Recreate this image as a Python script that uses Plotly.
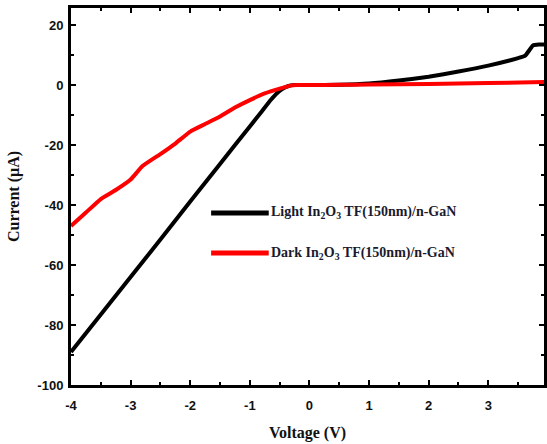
import plotly.graph_objects as go

# Light In2O3 TF(150nm)/n-GaN
light_v = [-4.0, -3.5, -3.0, -2.5, -2.0, -1.5, -1.0, -0.8, -0.65, -0.55, -0.45, -0.35, -0.25, 0.0, 0.5, 1.0, 1.5, 2.0, 2.5, 3.0, 3.5, 3.62, 3.75, 3.85, 3.95]
light_i = [-89.0, -76.5, -64.0, -51.5, -38.8, -26.3, -13.8, -8.8, -5.0, -2.8, -1.2, -0.3, 0.0, 0.0, 0.1, 0.5, 1.5, 2.8, 4.5, 6.5, 9.0, 9.8, 13.2, 13.5, 13.5]

# Dark In2O3 TF(150nm)/n-GaN
dark_v = [-4.0, -3.75, -3.5, -3.25, -3.0, -2.8, -2.5, -2.25, -2.0, -1.75, -1.5, -1.25, -1.0, -0.75, -0.5, -0.3, -0.2, 0.0, 0.5, 1.0, 2.0, 3.0, 3.95]
dark_i = [-47.0, -42.5, -38.0, -35.0, -31.5, -27.0, -23.0, -19.5, -15.5, -13.0, -10.5, -7.5, -5.0, -2.8, -1.2, -0.1, 0.0, 0.0, 0.1, 0.2, 0.4, 0.7, 1.0]

x_ticks = [-4, -3, -2, -1, 0, 1, 2, 3]
y_ticks = [20, 0, -20, -40, -60, -80, -100]

legend_labels = ["Light In<sub>2</sub>O<sub>3</sub> TF(150nm)/n-GaN",
                 "Dark In<sub>2</sub>O<sub>3</sub> TF(150nm)/n-GaN"]
colors = ["#000000", "#ff0000"]

fig = go.Figure()
fig.add_trace(go.Scatter(x=light_v, y=light_i, mode="lines",
                         line=dict(color=colors[0], width=4, shape="spline", smoothing=0.4),
                         showlegend=False))
fig.add_trace(go.Scatter(x=dark_v, y=dark_i, mode="lines",
                         line=dict(color=colors[1], width=4, shape="spline", smoothing=0.4),
                         showlegend=False))

tickfont = dict(family="Liberation Sans", size=13, color="#111", weight="bold")
titlefont = dict(family="Liberation Serif", size=16, color="#111", weight="bold")

fig.update_xaxes(range=[-4, 3.935], tickvals=x_ticks, ticktext=[str(v) for v in x_ticks],
                 showgrid=False, zeroline=False, showline=True, linecolor="black", linewidth=3,
                 mirror="ticks", ticks="inside", ticklen=5, tickwidth=2, tickcolor="black",
                 minor=dict(ticks="inside", ticklen=3, tickwidth=2, dtick=0.5, tickcolor="black"),
                 tickfont=tickfont, ticklabelstandoff=6,
                 title=dict(text="Voltage (V)", font=titlefont, standoff=16))
fig.update_yaxes(range=[-100, 25.7], tickvals=y_ticks, ticktext=[str(v) for v in y_ticks],
                 showgrid=False, zeroline=False, showline=True, linecolor="black", linewidth=3,
                 mirror="ticks", ticks="inside", ticklen=5, tickwidth=2, tickcolor="black",
                 minor=dict(ticks="inside", ticklen=3, tickwidth=2, dtick=10, tickcolor="black"),
                 tickfont=tickfont, ticklabelstandoff=2,
                 title=dict(text="Current (µA)", font=titlefont, standoff=14))

# manual legend
leg_y = [213, 253]
for k in range(2):
    yp = 1 - (leg_y[k] - 8) / 377.0
    fig.add_shape(type="line", xref="paper", yref="paper",
                  x0=(212 - 71) / 476.0, x1=(270 - 71) / 476.0, y0=yp, y1=yp,
                  line=dict(color=colors[k], width=5))
    fig.add_annotation(xref="paper", yref="paper", x=(270 - 71) / 476.0, y=yp,
                       xanchor="left", yanchor="middle", showarrow=False,
                       text="<b>" + legend_labels[k] + "</b>",
                       font=dict(family="Liberation Serif", size=14, color="#1a1a2e"))

fig.update_layout(width=547, height=444, margin=dict(l=71, r=0, t=8, b=59),
                  plot_bgcolor="white", paper_bgcolor="white")

fig.write_html("out.html")
